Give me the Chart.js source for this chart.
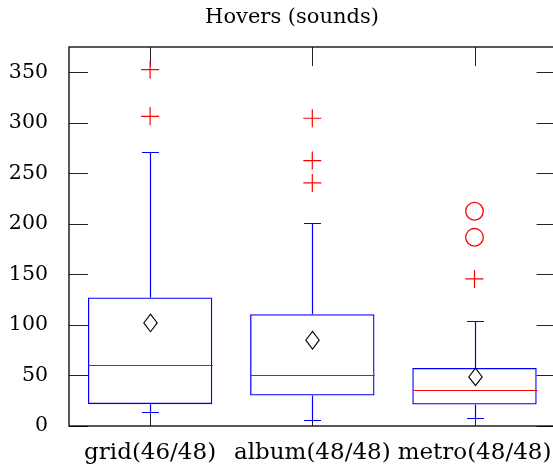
<!DOCTYPE html>
<html>
<head>
<meta charset="utf-8">
<script src="https://cdn.jsdelivr.net/npm/chart.js@4/dist/chart.umd.min.js"></script>
<style>
  html, body { margin: 0; padding: 0; background: #fff; overflow: hidden; width: 553px; height: 469px; }
  #wrap { position: absolute; left: 0; top: 0; width: 584px; height: 469px; }
</style>
</head>
<body>
<div id="wrap"><canvas id="c" width="584" height="469"></canvas></div>
<script>
// ---- data ----
const categories = ['grid', 'album', 'metro'];
const xTickLabels = ['grid(46/48)', 'album(48/48)', 'metro(48/48)'];
const q1 = [21.6, 30.2, 21.2];
const q3 = [127.1, 110.6, 57.5];
const medians = [60.1, 50.0, 36.1];
const means = [102.0, 84.9, 48.6];
const whiskerLow = [13.6, 5.7, 8.4];
const whiskerHigh = [271.5, 200.6, 104.3];
const outliersPlus = [[352.6, 306.4], [304.5, 262.6, 240.5], [145.5]];
const outliersCircle = [[], [], [186.7, 212.5]];
const yTicks = [0, 50, 100, 150, 200, 250, 300, 350];
const titleText = 'Hovers (sounds)';

// ---- build datasets ----
const plusPoints = [];
outliersPlus.forEach((arr, i) => arr.forEach(v => plusPoints.push({ x: xTickLabels[i], y: v })));
const circlePoints = [];
outliersCircle.forEach((arr, i) => arr.forEach(v => circlePoints.push({ x: xTickLabels[i], y: v })));

const FONT = "'DejaVu Serif', 'Liberation Serif', serif";
const TICK_LEN = 19;

const framePlugin = {
  id: 'frame',
  beforeDatasetsDraw(chart) {
    const { ctx, chartArea: a, scales } = chart;
    ctx.save();
    ctx.strokeStyle = '#222';
    ctx.lineWidth = 1;
    ctx.beginPath();
    yTicks.forEach(v => {
      const y = Math.round(scales.y.getPixelForValue(v)) + 0.5;
      ctx.moveTo(a.left, y); ctx.lineTo(a.left + TICK_LEN, y);
      ctx.moveTo(a.right, y); ctx.lineTo(a.right - TICK_LEN, y);
    });
    xTickLabels.forEach((_, i) => {
      const x = Math.round(scales.x.getPixelForValue(i)) + 0.5;
      ctx.moveTo(x, a.top); ctx.lineTo(x, a.top + TICK_LEN);
      ctx.moveTo(x, a.bottom); ctx.lineTo(x, a.bottom - TICK_LEN);
    });
    ctx.stroke();
    ctx.restore();
  },
  afterDatasetsDraw(chart) {
    const { ctx, chartArea: a, scales } = chart;
    const xs = scales.x, ys = scales.y;
    ctx.save();
    const cap = 8.5;
    xTickLabels.forEach((_, i) => {
      const x = Math.round(xs.getPixelForValue(i)) + 0.5;
      const meta = chart.getDatasetMeta(0).data[i];
      const half = meta.width / 2;
      ctx.strokeStyle = '#0000ff';
      ctx.lineWidth = 1.2;
      ctx.beginPath();
      const yq3 = ys.getPixelForValue(q3[i]);
      const yq1 = ys.getPixelForValue(q1[i]);
      const yhi = Math.round(ys.getPixelForValue(whiskerHigh[i])) + 0.5;
      const ylo = Math.round(ys.getPixelForValue(whiskerLow[i])) + 0.5;
      ctx.moveTo(x, yq3); ctx.lineTo(x, yhi);
      ctx.moveTo(x - cap, yhi); ctx.lineTo(x + cap, yhi);
      ctx.moveTo(x, yq1); ctx.lineTo(x, ylo);
      ctx.moveTo(x - cap, ylo); ctx.lineTo(x + cap, ylo);
      ctx.stroke();
      const ym = Math.round(ys.getPixelForValue(medians[i])) + 0.5;
      ctx.strokeStyle = '#ff0000';
      ctx.lineWidth = 1;
      ctx.beginPath();
      ctx.moveTo(x - half, ym); ctx.lineTo(x + half, ym);
      ctx.stroke();
      const yMean = ys.getPixelForValue(means[i]);
      ctx.strokeStyle = '#000';
      ctx.fillStyle = '#fff';
      ctx.lineWidth = 1.1;
      ctx.beginPath();
      ctx.moveTo(x, yMean - 8.8);
      ctx.lineTo(x + 6.7, yMean);
      ctx.lineTo(x, yMean + 8.8);
      ctx.lineTo(x - 6.7, yMean);
      ctx.closePath();
      ctx.fill();
      ctx.stroke();
    });
    ctx.strokeStyle = '#000';
    ctx.lineWidth = 1.3;
    ctx.strokeRect(a.left, a.top, a.right - a.left, a.bottom - a.top);
    ctx.restore();
  }
};

new Chart(document.getElementById('c'), {
  data: {
    labels: xTickLabels,
    datasets: [
      {
        type: 'bar',
        data: q1.map((v, i) => [v, q3[i]]),
        backgroundColor: 'rgba(255,255,255,0)',
        borderColor: '#0000ff',
        borderWidth: 1.3,
        borderSkipped: false,
        barPercentage: 0.767,
        categoryPercentage: 1.0,
        order: 3
      },
      {
        type: 'line',
        data: plusPoints,
        showLine: false,
        pointStyle: 'cross',
        pointRadius: 9,
        pointBorderColor: '#ff0000',
        pointBorderWidth: 1.2,
        borderColor: '#ff0000',
        order: 1
      },
      {
        type: 'line',
        data: circlePoints,
        showLine: false,
        pointStyle: 'circle',
        pointRadius: 8.8,
        pointBorderColor: '#ff0000',
        pointBackgroundColor: 'rgba(255,255,255,0)',
        pointBorderWidth: 1.3,
        borderColor: '#ff0000',
        order: 2
      }
    ]
  },
  options: {
    responsive: false,
    animation: false,
    events: [],
    layout: { padding: 0 },
    plugins: {
      legend: { display: false },
      tooltip: { enabled: false },
      title: {
        display: true,
        text: titleText,
        color: '#000',
        font: { family: FONT, size: 21, weight: 'normal', lineHeight: 1.2 },
        padding: { top: 5, bottom: 16.8 }
      }
    },
    scales: {
      x: {
        type: 'category',
        offset: true,
        grid: { display: false, drawTicks: false },
        border: { display: false },
        ticks: {
          color: '#000',
          padding: 13,
          maxRotation: 0,
          autoSkip: false,
          font: { family: FONT, size: 23 }
        },
        afterFit(scale) { scale.height = 43; }
      },
      y: {
        type: 'linear',
        min: 0,
        max: 375,
        grid: { display: false, drawTicks: false },
        border: { display: false },
        afterBuildTicks(scale) { scale.ticks = yTicks.map(v => ({ value: v })); },
        ticks: {
          color: '#000',
          padding: 21,
          font: { family: FONT, size: 20.5 },
          callback: v => String(v)
        },
        afterFit(scale) { scale.width = 69; }
      },
      yPad: {
        type: 'linear',
        position: 'right',
        display: true,
        min: 0,
        max: 375,
        grid: { display: false, drawTicks: false },
        border: { display: false },
        ticks: { display: false },
        afterFit(scale) { scale.width = 28.4; }
      }
    }
  },
  plugins: [framePlugin]
});
</script>
</body>
</html>
